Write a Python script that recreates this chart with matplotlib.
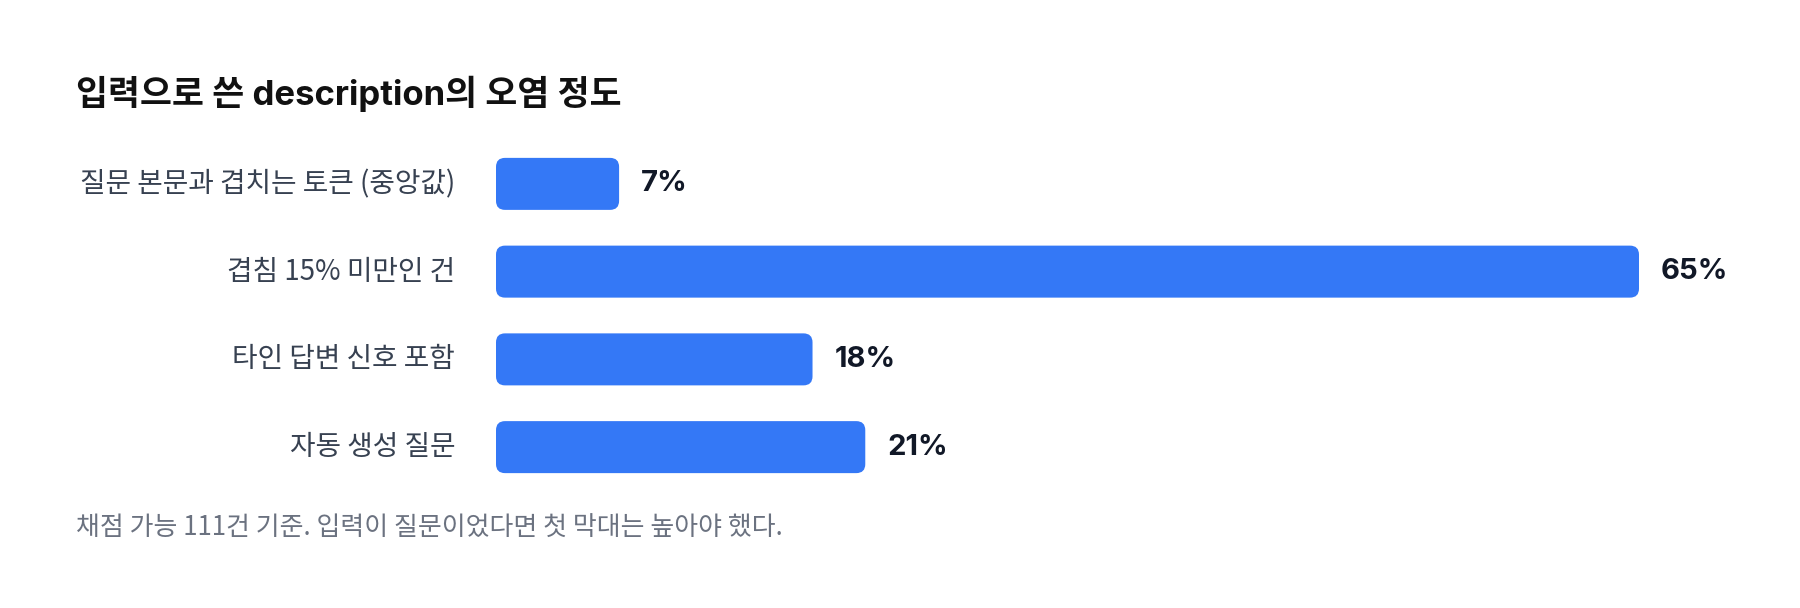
import matplotlib
matplotlib.use("Agg")
import matplotlib.pyplot as plt
from matplotlib.patches import FancyBboxPatch

plt.rcParams['font.family'] = ['Inter', 'Noto Sans CJK KR', 'DejaVu Sans']

# data
categories = ["질문 본문과 겹치는 토큰 (중앙값)", "겹침 15% 미만인 건", "타인 답변 신호 포함", "자동 생성 질문"]
values = [7, 65, 18, 21]
value_labels = ["7%", "65%", "18%", "21%"]

title = "입력으로 쓴 description의 오염 정도"
note = "채점 가능 111건 기준. 입력이 질문이었다면 첫 막대는 높아야 했다."

bar_color = "#3478F6"
W, H = 1800, 608

fig = plt.figure(figsize=(W / 100, H / 100), dpi=100)
fig.patch.set_facecolor("white")

# axes placed in pixels: bars from x=496 to x=1639 (65%), rows centred 184..447
ax_l, ax_r = 496, 1639
ax_top, ax_bot = 140, 491
ax = fig.add_axes([ax_l / W, 1 - ax_bot / H, (ax_r - ax_l) / W, (ax_bot - ax_top) / H])
ax.set_xlim(0, max(values))
ax.set_ylim(len(values) - 0.5, -0.5)
ax.axis("off")

xpp = max(values) / (ax_r - ax_l)        # data x per pixel
ypp = len(values) / (ax_bot - ax_top)    # data y per pixel
bar_h = 52 * ypp
radius = 9 * xpp

for i, (v, lab) in enumerate(zip(values, value_labels)):
    box = FancyBboxPatch((0, i - bar_h / 2), v, bar_h,
                         boxstyle=f"round,pad=0,rounding_size={radius}",
                         mutation_aspect=ypp / xpp,
                         facecolor=bar_color, edgecolor="none")
    ax.add_patch(box)
    ax.text(v + 22 * xpp, i, lab, ha="left", va="center", fontsize=21,
            fontweight="bold", color="#111827", clip_on=False)
    ax.text(-41 * xpp, i, categories[i], ha="right", va="center", fontsize=20,
            color="#374151", family=['Noto Sans CJK KR', 'DejaVu Sans'], clip_on=False)

fig.text(76 / W, 1 - 94 / H, title, ha="left", va="center", fontsize=25,
         fontweight="bold", color="#111111")
fig.text(76 / W, 1 - 528 / H, note, ha="left", va="center", fontsize=18.7,
         color="#6B7280", family=['Noto Sans CJK KR', 'DejaVu Sans'])

fig.savefig("out.png", dpi=100, facecolor="white")
